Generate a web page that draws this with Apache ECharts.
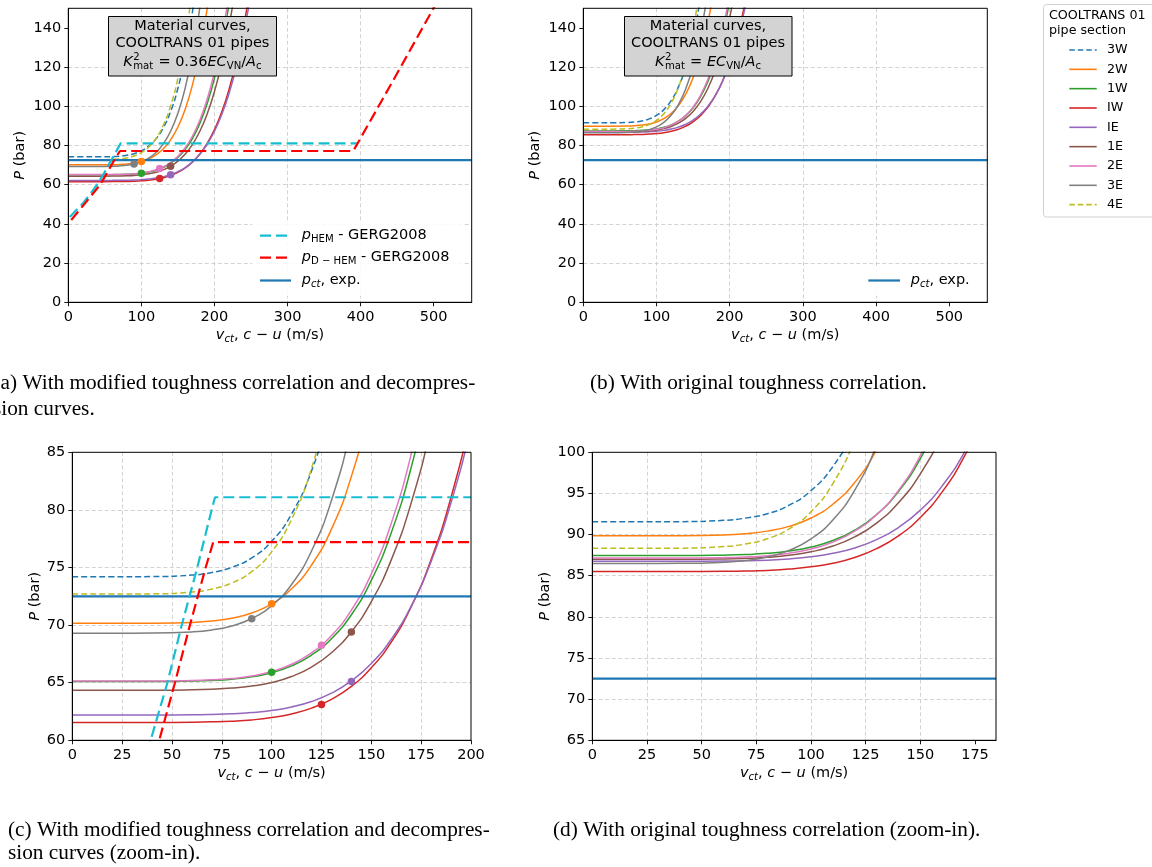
<!DOCTYPE html>
<html><head><meta charset="utf-8">
<script src="https://cdn.jsdelivr.net/npm/echarts/dist/echarts.min.js"></script>
<style>html,body{margin:0;padding:0;background:#fff;}#c{width:1152px;height:867px;}</style>
</head><body><div id="c"></div>
<script>
// ---------------- DATA ----------------
const vGrid = [0,20,40,60,70,80,90,100,110,120,130,140,150,160,170,180,190,200,210,220,230,240,250];
const pipeNames = ['3W','2W','1W','IW','IE','1E','2E','3E','4E'];
// modified toughness correlation (panels a, c)
const mod3W = [74.2,74.2,74.21,74.34,74.56,75.01,75.83,77.27,79.65,83.38,89.04,97.34,109.2,125.8,148.4,178.8];
const mod2W = [70.15,70.15,70.16,70.23,70.35,70.59,71.05,71.84,73.15,75.21,78.33,82.91,89.45,98.57,111.05,127.76,149.85,178.6];
const mod1W = [65.1,65.1,65.1,65.14,65.19,65.3,65.51,65.87,66.46,67.4,68.82,70.9,73.88,78.02,83.69,91.29,101.32,114.39,131.14,152.4];
const modIW = [61.55,61.55,61.55,61.57,61.6,61.66,61.77,61.97,62.29,62.79,63.56,64.68,66.29,68.52,71.59,75.69,81.11,88.16,97.21,108.69,123.1,141.0,163.1];
const modIE = [62.2,62.2,62.2,62.22,62.25,62.3,62.41,62.59,62.89,63.37,64.09,65.15,66.66,68.77,71.65,75.53,80.63,87.27,95.79,106.61,120.19,137.06,157.84];
const mod1E = [64.35,64.35,64.35,64.38,64.43,64.53,64.71,65.02,65.54,66.36,67.6,69.42,72.03,75.66,80.61,87.27,96.06,107.48,122.12,140.73,164.1];
const mod2E = [65.15,65.15,65.15,65.19,65.25,65.36,65.58,65.97,66.6,67.59,69.09,71.3,74.45,78.84,84.85,92.92,103.56,117.4,135.15,157.7];
const mod3E = [69.3,69.3,69.31,69.41,69.58,69.93,70.57,71.69,73.53,76.43,80.82,87.28,96.5,109.37,126.95,150.52];
const mod4E = [72.7,72.7,72.71,72.87,73.13,73.66,74.64,76.36,79.18,83.61,90.34,100.22,114.34,134.05,160.94];
// original toughness correlation (panels b, d)
const org3W = [91.55,91.55,91.57,91.73,92.0,92.54,93.57,95.34,98.27,102.9,109.9,120.1,134.8,155.2];
const org2W = [89.85,89.85,89.86,89.95,90.11,90.42,91.0,92.02,93.69,96.33,100.33,106.2,114.6,126.26,142.23,163.6];
const org1W = [87.45,87.45,87.45,87.5,87.57,87.72,88.0,88.48,89.28,90.54,92.44,95.24,99.24,104.81,112.42,122.63,136.11,153.66];
const orgIW = [85.5,85.5,85.5,85.53,85.57,85.65,85.81,86.08,86.52,87.22,88.29,89.85,92.08,95.19,99.44,105.15,112.67,122.46,135.03,150.98];
const orgIE = [86.75,86.75,86.75,86.78,86.81,86.89,87.04,87.3,87.72,88.38,89.39,90.86,92.97,95.92,99.94,105.34,112.45,121.72,133.6,148.69,167.6];
const org1E = [87.0,87.0,87.0,87.04,87.11,87.24,87.48,87.91,88.61,89.72,91.4,93.86,97.38,102.29,108.98,117.98,129.86,145.31,165.1];
const org2E = [87.15,87.15,87.15,87.2,87.28,87.44,87.73,88.24,89.08,90.41,92.42,95.37,99.59,105.47,113.5,124.3,138.53,157.05];
const org3E = [86.5,86.5,86.51,86.64,86.85,87.28,88.08,89.48,91.78,95.4,100.89,108.94,120.45,136.51,158.46];
const org4E = [88.33,88.33,88.35,88.54,88.85,89.49,90.69,92.77,96.2,101.59,109.77,121.77,138.93,162.87];
// decompression curves (full view, panel a)
const hemV = [2,20,30,39.3,47.7,54.9,62.7,69.9,71.6,396];
const hemP = [43.5,50.5,55.2,60,65,70,75,80,81.1,81.1];
const dhemV = [4,24,43.6,51.5,59.0,66.9,70.7,390,445,500,515];
const dhemP = [42,51,60,65,70,75,77.2,77.2,113.5,150.2,160];
// decompression curves (zoom-in, panel c: plateau read up to the right edge)
const hemVZoom = [2,20,30,39.3,47.7,54.9,62.7,69.9,71.6,200];
const hemPZoom = [43.5,50.5,55.2,60,65,70,75,80,81.1,81.1];
const dhemVZoom = [4,24,43.6,51.5,59.0,66.9,70.7,200];
const dhemPZoom = [42,51,60,65,70,75,77.2,77.2];
// experimental crack-tip pressure (spans each panel)
const pctVWide = [0,552];
const pctVC = [0,200];
const pctVD = [0,184.6];
const pctP = [72.5,72.5];
// experimental arrest points
const dotPipe = ['3E','2W','1W','2E','1E','IE','IW'];
const dotV = [90,100,100,125,140,140,125];
const dotP = [70.55,71.85,65.9,68.25,69.4,65.1,63.1];
// ticks
const xTicksAB = [0,100,200,300,400,500];
const yTicksAB = [0,20,40,60,80,100,120,140];
const xTicksC = [0,25,50,75,100,125,150,175,200];
const yTicksC = [60,65,70,75,80,85];
const xTicksD = [0,25,50,75,100,125,150,175];
const yTicksD = [65,70,75,80,85,90,95,100];

// ---------------- STYLE ----------------
const pipeColor = {'3W':'#1f77b4','2W':'#ff7f0e','1W':'#2ca02c','IW':'#d62728','IE':'#9467bd','1E':'#8c564b','2E':'#e377c2','3E':'#7f7f7f','4E':'#bcbd22'};
const pipeDashed = {'3W':true,'4E':true};
const modSets = {'3W':mod3W,'2W':mod2W,'1W':mod1W,'IW':modIW,'IE':modIE,'1E':mod1E,'2E':mod2E,'3E':mod3E,'4E':mod4E};
const orgSets = {'3W':org3W,'2W':org2W,'1W':org1W,'IW':orgIW,'IE':orgIE,'1E':org1E,'2E':org2E,'3E':org3E,'4E':org4E};
const FS = 14.5;
const FF = 'DejaVu Sans';
const grids = [
  {left:68.3, top:8.3, width:403.4, height:294},
  {left:583.3, top:8.3, width:404, height:294},
  {left:72.3, top:452.3, width:398.7, height:288},
  {left:592.3, top:452.3, width:403.7, height:288}
];

function mkX(gi, min, max, interval, ticks){
  return {type:'value', gridIndex:gi, min, max, interval,
    axisLine:{show:true, onZero:false, lineStyle:{color:'#000', width:1}},
    axisTick:{show:true, length:4, inside:false, customValues:ticks, lineStyle:{color:'#000', width:0.9}},
    axisLabel:{show:true, customValues:ticks, margin:7, color:'#000', fontSize:FS, fontFamily:FF,
      formatter:v=>ticks.includes(v)?String(v):''},
    splitLine:{show:true, showMinLine:false, showMaxLine:false, lineStyle:{color:'#c8c8c8', width:0.8, type:[4,2.5]}}};
}
function mkY(gi, min, max, interval, ticks){
  const a = mkX(gi, min, max, interval, ticks);
  a.axisLabel.margin = 7;
  return a;
}
function curveSeries(gi, sets){
  return pipeNames.map(n=>({
    type:'line', xAxisIndex:gi, yAxisIndex:gi,
    data: sets[n].map((p,j)=>[vGrid[j],p]),
    symbol:'none', showSymbol:false, smooth:0.5, clip:true, silent:true,
    lineStyle:{color:pipeColor[n], width:1.5, type: pipeDashed[n]?[6,3]:'solid'}
  }));
}
function lineSeries(gi, xs, ys, color, width, type){
  return {type:'line', xAxisIndex:gi, yAxisIndex:gi, data: xs.map((v,j)=>[v,ys[j]]),
    symbol:'none', showSymbol:false, clip:true, silent:true,
    lineStyle:{color, width, type, cap:'butt'}};
}
function dotSeries(gi){
  return {type:'scatter', xAxisIndex:gi, yAxisIndex:gi, symbolSize:7.5, z:5, silent:true, clip:true,
    data: dotV.map((v,j)=>({value:[v,dotP[j]], itemStyle:{color:pipeColor[dotPipe[j]], opacity:1}}))};
}

// ---------- text helpers ----------
const ctx = document.createElement('canvas').getContext('2d');
function fnt(it, size, fam){ return (it?'italic ':'') + size + 'px "' + (fam||FF) + '"'; }
function tw(t, it, size){ ctx.font = fnt(it,size); return ctx.measureText(t).width; }
function txt(t, x, y, font, align, valign){
  return {type:'text', silent:true, z:100, x, y,
    style:{text:t, font, fill:'#000', align:align||'left', verticalAlign:valign||'middle',
      textAlign:align||'left', textVerticalAlign:valign||'middle'}};
}
function math(segs, x, y, size, align){
  const placed = []; let cx = 0; const s7 = size*0.7;
  segs.forEach(s=>{
    if (s.stack){
      const w1 = tw(s.sup, false, s7), w2 = tw(s.sub, false, s7);
      placed.push({t:s.sup, it:false, sz:s7, dx:cx+0.5, dy:-0.36*size});
      placed.push({t:s.sub, it:false, sz:s7, dx:cx+0.5, dy:0.30*size});
      cx += Math.max(w1,w2)+1;
    } else {
      const sz = s[2] ? s7 : size;
      const w = tw(s[0], !!s[1], sz);
      placed.push({t:s[0], it:!!s[1], sz, dx:cx, dy: s[2]===1?0.30*size:(s[2]===2?-0.36*size:0)});
      cx += w;
    }
  });
  const x0 = align==='center' ? x-cx/2 : (align==='right' ? x-cx : x);
  return placed.map(p=>txt(p.t, x0+p.dx, y+p.dy, fnt(p.it,p.sz), 'left','middle'));
}
function hline(x1,x2,y,color,width,dash){
  return {type:'line', silent:true, z:100, shape:{x1,y1:y,x2,y2:y},
    style:{stroke:color, lineWidth:width, lineDash:dash||null}};
}
function rect(x,y,w,h,fill,stroke,r,z){
  return {type:'rect', silent:true, z:z||99, shape:{x,y,width:w,height:h,r:r||0},
    style:{fill, stroke:stroke||null, lineWidth:1}};
}

// ---------- graphic ----------
const G = [];
grids.forEach(g=>G.push(rect(g.left,g.top,g.width,g.height,'none','#000',0,90)));
const xNameSegs = [['v',1,0],['ct',1,1],[', ',0,0],['c',1,0],[' \u2212 ',0,0],['u',1,0],[' (m/s)',0,0]];
const yNameSegs = [['P',1,0],[' (bar)',0,0]];
G.push(...math(xNameSegs, 270, 335, FS, 'center'));
G.push(...math(xNameSegs, 785.3, 335, FS, 'center'));
G.push(...math(xNameSegs, 271.6, 773, FS, 'center'));
G.push(...math(xNameSegs, 794.1, 773, FS, 'center'));
[[20,155.3],[535.5,155.3],[35,596.3],[545,596.3]].forEach(p=>{
  G.push({type:'group', x:p[0], y:p[1], rotation:Math.PI/2, z:100, children: math(yNameSegs,0,0,FS,'center')});
});
// material curve boxes
G.push(rect(108.5,16.5,168,59.5,'#d3d3d3','#000'));
G.push(txt('Material curves,',192.4,26.5,fnt(false,FS),'center'));
G.push(txt('COOLTRANS 01 pipes',192.4,43.5,fnt(false,FS),'center'));
G.push(...math([['K',1,0],{stack:true,sup:'2',sub:'mat'},[' = 0.36',0,0],['EC',1,0],['VN',0,1],['/',0,0],['A',1,0],['c',0,1]],192.4,62.5,FS,'center'));
G.push(rect(624.5,16.5,167.5,59.5,'#d3d3d3','#000'));
G.push(txt('Material curves,',708,26.5,fnt(false,FS),'center'));
G.push(txt('COOLTRANS 01 pipes',708,43.5,fnt(false,FS),'center'));
G.push(...math([['K',1,0],{stack:true,sup:'2',sub:'mat'},[' = ',0,0],['EC',1,0],['VN',0,1],['/',0,0],['A',1,0],['c',0,1]],708,62.5,FS,'center'));
// legend panel a
G.push(rect(252,222,212,74,'rgba(255,255,255,0.85)',null));
G.push(hline(260,291,235.7,'#17becf',2.2,[11,5]));
G.push(hline(260,291,257.7,'#ff0000',2.2,[11,5]));
G.push(hline(260,291,280.5,'#1f77b4',2.2));
G.push(...math([['p',1,0],['HEM',0,1],[' - GERG2008',0,0]],301.7,235.5,FS,'left'));
G.push(...math([['p',1,0],['D \u2212 HEM',0,1],[' - GERG2008',0,0]],301.7,257.5,FS,'left'));
G.push(...math([['p',1,0],['ct',1,1],[', exp.',0,0]],301.7,280.5,FS,'left'));
// legend panel b
G.push(rect(862,268,120,28,'rgba(255,255,255,0.85)',null));
G.push(hline(868.3,900,280.5,'#1f77b4',2.2));
G.push(...math([['p',1,0],['ct',1,1],[', exp.',0,0]],910.7,280.5,FS,'left'));
// right legend
const LF = 12.7;
G.push(rect(1043.5,4.5,130,212.5,'#fff','#d0d0d0',3));
G.push(txt('COOLTRANS 01',1049,15.5,fnt(false,LF),'left'));
G.push(txt('pipe section',1049,31,fnt(false,LF),'left'));
pipeNames.forEach((n,k)=>{
  const y = 50 + k*19.33;
  G.push(hline(1069.3,1096.7,y,pipeColor[n],1.6,pipeDashed[n]?[5.5,3]:null));
  G.push(txt(n,1107,y,fnt(false,LF),'left'));
});
// captions
const CF = '21.3px "Liberation Serif"';
G.push(txt('(a) With modified toughness correlation and decompres-',-6.5,383,CF,'left'));
G.push(txt('sion curves.',-7,409.5,CF,'left'));
G.push(txt('(b) With original toughness correlation.',590,383,CF,'left'));
G.push(txt('(c) With modified toughness correlation and decompres-',8,830,CF,'left'));
G.push(txt('sion curves (zoom-in).',8,853,CF,'left'));
G.push(txt('(d) With original toughness correlation (zoom-in).',553,830,CF,'left'));

// ---------------- CHART ----------------
const chart = echarts.init(document.getElementById('c'), null, {renderer:'canvas'});
const gridBase = {show:false, containLabel:false, outerBoundsMode:'none'};
chart.setOption({
  animation:false,
  backgroundColor:'#fff',
  grid: grids.map(g=>Object.assign({}, g, gridBase)),
  xAxis:[ mkX(0,0,552,100,xTicksAB), mkX(1,0,552,100,xTicksAB), mkX(2,0,200,25,xTicksC), mkX(3,0,184.6,25,xTicksD) ],
  yAxis:[ mkY(0,0,150,20,yTicksAB), mkY(1,0,150,20,yTicksAB), mkY(2,60,85,5,yTicksC), mkY(3,65,100,5,yTicksD) ],
  series:[
    ...curveSeries(0, modSets),
    lineSeries(0, pctVWide, pctP, '#1f77b4', 2.2, 'solid'),
    lineSeries(0, hemV, hemP, '#17becf', 2.2, [11,5]),
    lineSeries(0, dhemV, dhemP, '#ff0000', 2.2, [11,5]),
    dotSeries(0),
    ...curveSeries(1, orgSets),
    lineSeries(1, pctVWide, pctP, '#1f77b4', 2.2, 'solid'),
    ...curveSeries(2, modSets),
    lineSeries(2, pctVC, pctP, '#1f77b4', 2.2, 'solid'),
    lineSeries(2, hemVZoom, hemPZoom, '#17becf', 2.2, [11,5]),
    lineSeries(2, dhemVZoom, dhemPZoom, '#ff0000', 2.2, [11,5]),
    dotSeries(2),
    ...curveSeries(3, orgSets),
    lineSeries(3, pctVD, pctP, '#1f77b4', 2.2, 'solid')
  ],
  graphic:{elements:G}
});
</script></body></html>
